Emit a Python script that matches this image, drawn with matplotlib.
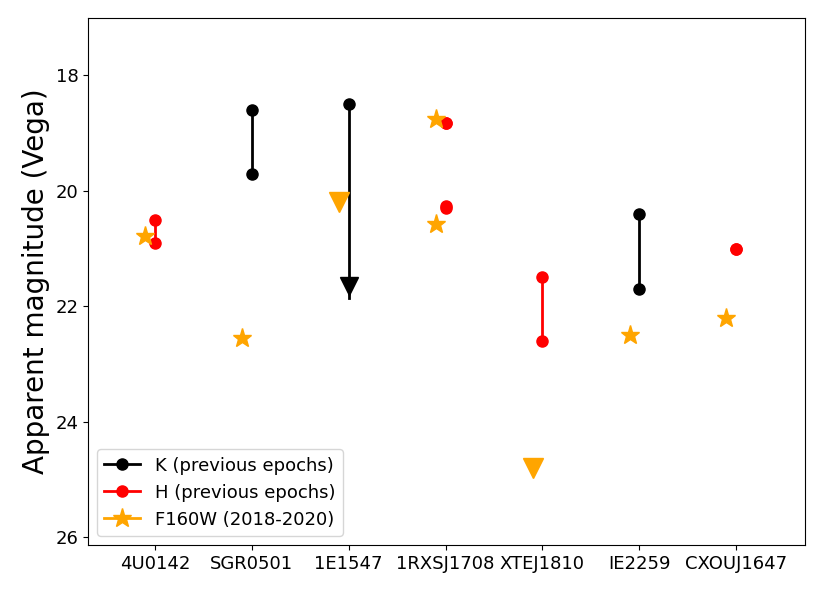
import matplotlib
matplotlib.use("Agg")
import matplotlib.pyplot as plt

names = ["4U0142", "SGR0501", "1E1547", "1RXSJ1708", "XTEJ1810", "IE2259", "CXOUJ1647"]

# K band (previous epochs): (index, bright, faint)
k_idx = [1, 2, 5]
k_bright = [18.6, 18.5, 20.4]
k_faint = [19.7, 21.7, 21.7]

# H band (previous epochs)
h_idx = [0, 3, 3, 4, 6]
h_bright = [20.5, 18.82, 20.27, 21.5, 21.0]
h_faint = [20.9, 18.82, 20.3, 22.6, 21.0]

# F160W (2018-2020) detections
f_idx = [0, 1, 3, 3, 5, 6]
f_mag = [20.79, 22.56, 18.76, 20.58, 22.5, 22.2]

# F160W upper limits
ul_idx = [2, 4]
ul_mag = [20.2, 24.8]

fig = plt.figure(figsize=(8.23, 5.93), dpi=100)
ax = fig.add_axes([0.107, 0.081, 0.871, 0.889])

for i, (a, b) in enumerate(zip(k_bright, k_faint)):
    x = k_idx[i]
    if x == 2:
        # upper limit for 1E1547
        ax.plot([x, x], [a, b + 0.15], color="black", lw=2)
        ax.plot(x, a, "o", color="black", ms=8)
        ax.plot(x, b - 0.05, "v", color="black", ms=13)
    else:
        ax.plot([x, x], [a, b], "o-", color="black", lw=2, ms=8,
                label="K (previous epochs)" if i == 0 else None)

for i, (a, b) in enumerate(zip(h_bright, h_faint)):
    x = h_idx[i]
    ax.plot([x, x], [a, b], "o-", color="red", lw=2, ms=8,
            label="H (previous epochs)" if i == 0 else None)

ax.plot([i - 0.1 for i in f_idx], f_mag, "*", color="orange", ms=14,
        linestyle="none")
ax.plot([], [], "*-", color="orange", lw=2, ms=14, label="F160W (2018-2020)")
ax.plot([i - 0.1 for i in ul_idx], ul_mag, "v", color="orange", ms=14,
        linestyle="none")

ax.set_xticks(range(len(names)))
ax.set_xticklabels(names, fontsize=13)
ax.tick_params(axis="y", labelsize=13)
ax.set_yticks([18, 20, 22, 24, 26])
ax.set_xlim(-0.69, 6.71)
ax.set_ylim(26.14, 17.0)
ax.set_ylabel("Apparent magnitude (Vega)", fontsize=20)
ax.legend(loc="lower left", fontsize=13)

fig.savefig("out.png", dpi=100)
